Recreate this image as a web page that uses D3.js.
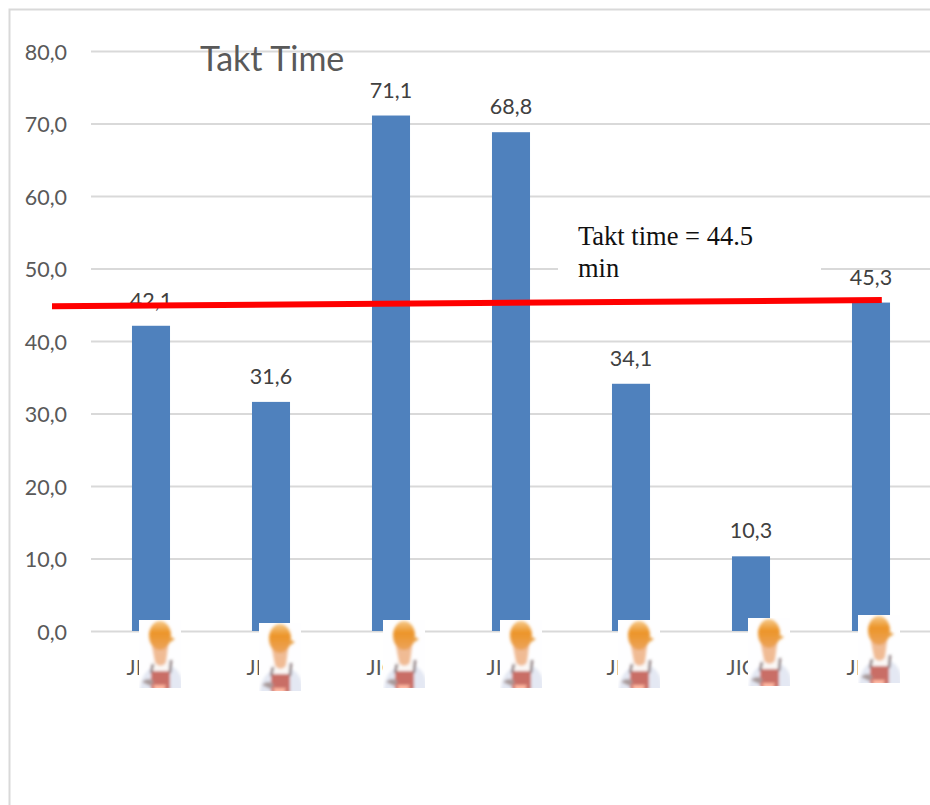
<!DOCTYPE html>
<html>
<head>
<meta charset="utf-8">
<script src="https://cdn.jsdelivr.net/npm/d3@7/dist/d3.min.js"></script>
<style>
  html, body { margin: 0; padding: 0; background: #fff; }
  svg { display: block; }
</style>
</head>
<body>
<div id="chart"></div>
<script>
// Cycle time per jig, in minutes
const categories = ["JIG 1", "JIG 2", "JIG 3", "JIG 4", "JIG 5", "JIG 6", "JIG 7"];
const cycleTimes = [42.1, 31.6, 71.1, 68.8, 34.1, 10.3, 45.3];
const yTicks = [0, 10, 20, 30, 40, 50, 60, 70, 80];

// Hand-placed takt line: [position in category steps, minutes]
const taktLineEnds = [[-0.825, 44.8], [6.09, 45.65]];
const chartTitle = "Takt Time";
const taktNote = ["Takt time = 44.5", "min"];

// Worker badge placement relative to each category: [dx from band centre, top above the axis]
const workerPlacement = [[-12, 11], [-12, 8], [-8, 11], [-11, 11], [-13, 11], [-3, 13], [-13, 16]];

const W = 930, H = 805;
const grey = "#595959", rule = "#d9d9d9", barBlue = "#4f81bd";
const uiFont = "Lato, 'Open Sans', sans-serif";
const labelSize = 21.5;

const svg = d3.select("#chart").append("svg").attr("width", W).attr("height", H);

const x = d3.scaleBand().domain(categories).range([91, 931]).paddingInner(0.683).paddingOuter(0.3415);
const y = d3.scaleLinear().domain([0, 80]).range([631, 51]);
const xStep = d3.scaleLinear().domain([0, 1]).range([x(categories[0]) + x.bandwidth() / 2, x(categories[1]) + x.bandwidth() / 2]);
const comma = d => d3.format(".1f")(d).replace(".", ",");

// Outer chart frame: only the top and left edges fall inside the page
svg.append("path").attr("d", `M9.5,${H}V9.5H${W}`).attr("fill", "none").attr("stroke", rule).attr("stroke-width", 2);

// Value axis with full-width gridlines
const yAxis = svg.append("g").attr("transform", "translate(91,0)")
  .call(d3.axisLeft(y).tickValues(yTicks).tickSize(-(W - 91)).tickPadding(24).tickFormat(comma));
yAxis.select(".domain").remove();
yAxis.selectAll(".tick line").attr("stroke", rule).attr("stroke-width", 2);
yAxis.selectAll(".tick text").attr("fill", grey).attr("font-family", uiFont).attr("font-size", labelSize).attr("dy", "0.38em");

// Category axis labels
const xAxis = svg.append("g").attr("transform", `translate(0,${y(0)})`)
  .call(d3.axisBottom(x).tickSize(0).tickPadding(29));
xAxis.select(".domain").remove();
xAxis.selectAll(".tick text").attr("fill", grey).attr("font-family", uiFont).attr("font-size", labelSize);

// Note box sits over the gridlines
svg.append("rect").attr("x", 558).attr("y", 216).attr("width", 263).attr("height", 72).attr("fill", "#fff");

// Bars
svg.append("g").selectAll("rect").data(cycleTimes).join("rect")
  .attr("x", (d, i) => x(categories[i]))
  .attr("width", x.bandwidth())
  .attr("y", d => y(d))
  .attr("height", d => y(0) - y(d))
  .attr("fill", barBlue);

// Value labels above the bars
svg.append("g").selectAll("text").data(cycleTimes).join("text")
  .attr("x", (d, i) => x(categories[i]) + x.bandwidth() / 2)
  .attr("y", d => y(d) - 18)
  .attr("text-anchor", "middle")
  .attr("font-family", uiFont).attr("font-size", labelSize).attr("fill", "#404040")
  .text(comma);

// Title
svg.append("text").attr("x", 200).attr("y", 71)
  .attr("font-family", uiFont).attr("font-size", 34).attr("fill", grey)
  .text(chartTitle);

// Takt note
svg.append("g").selectAll("text").data(taktNote).join("text")
  .attr("x", 578).attr("y", (d, i) => 245 + i * 32)
  .attr("font-family", "'Liberation Serif', serif").attr("font-size", 26.5).attr("fill", "#111")
  .text(d => d);

// Takt reference line
svg.append("line")
  .attr("x1", xStep(taktLineEnds[0][0])).attr("y1", y(taktLineEnds[0][1]))
  .attr("x2", xStep(taktLineEnds[1][0])).attr("y2", y(taktLineEnds[1][1]))
  .attr("stroke", "#ff0000").attr("stroke-width", 6);

// Worker badge: soft little figure with helmet and apron
const defs = svg.append("defs");
defs.append("filter").attr("id", "soft").attr("x", "-10%").attr("y", "-10%").attr("width", "120%").attr("height", "120%")
  .append("feGaussianBlur").attr("stdDeviation", 1.5);
const helmetFill = defs.append("linearGradient").attr("id", "helmet").attr("x1", 0).attr("y1", 0).attr("x2", 0).attr("y2", 1);
helmetFill.append("stop").attr("offset", 0).attr("stop-color", "#f6c98a");
helmetFill.append("stop").attr("offset", 0.4).attr("stop-color", "#ec9427");
helmetFill.append("stop").attr("offset", 1).attr("stop-color", "#eba45c");

const worker = defs.append("symbol").attr("id", "worker").attr("viewBox", "0 0 42 68").attr("overflow", "hidden");
worker.append("rect").attr("width", 42).attr("height", 68).attr("fill", "#fefeff");
const art = worker.append("g").attr("filter", "url(#soft)");
art.append("path").attr("d", "M1,72 C1,56 8,50 14,47 L30,45 C38,48 44,54 44,72 Z").attr("fill", "#e4e8f3");
art.append("path").attr("d", "M13,40 L30,40 L30,54 L13,54 Z").attr("fill", "#fbf8f6");
art.append("path").attr("d", "M13,26 L29,26 L27,42 C25,47 18,47 16,42 Z").attr("fill", "#f0bb94");
art.append("ellipse").attr("cx", 21).attr("cy", 15.5).attr("rx", 11).attr("ry", 14.5).attr("fill", "url(#helmet)");
art.append("path").attr("d", "M30,16 L36,19 L30,23 Z").attr("fill", "#e9a24a");
art.append("path").attr("d", "M12,51 L31,51 L31,70 L12,70 Z").attr("fill", "#c96e66");
art.append("path").attr("d", "M12,53 L14,44 M31,53 L32,40").attr("stroke", "#8d7c7e").attr("stroke-width", 2.6).attr("fill", "none");
art.append("path").attr("d", "M3,62 C7,58 12,58 15,62 L11,66 Z").attr("fill", "#a99a9a");
art.append("path").attr("d", "M14,65 L27,65 L25,70 L16,70 Z").attr("fill", "#ffb7a0");

svg.append("g").selectAll("use").data(workerPlacement).join("use")
  .attr("href", "#worker")
  .attr("x", (d, i) => x(categories[i]) + x.bandwidth() / 2 + d[0])
  .attr("y", d => y(0) - d[1])
  .attr("width", 42).attr("height", 68);
</script>
</body>
</html>
